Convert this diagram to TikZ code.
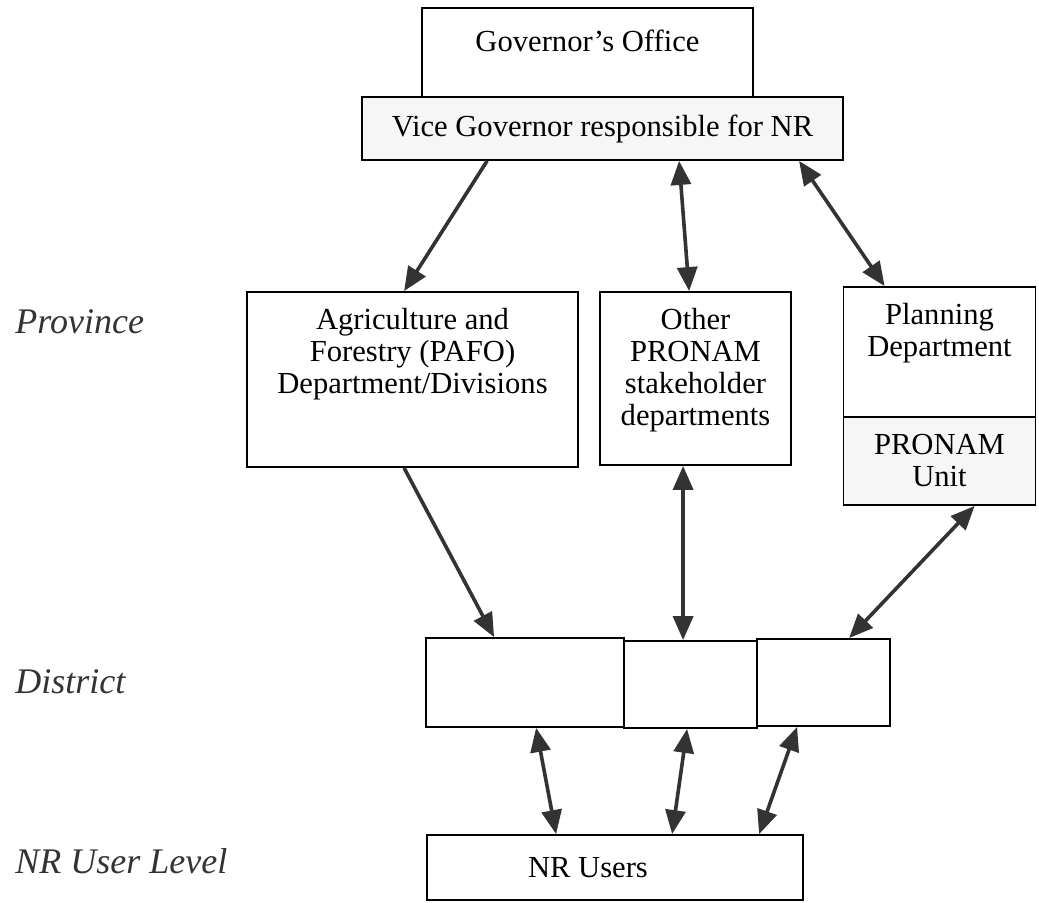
\documentclass[tikz,border=0pt]{standalone}
\usepackage{fontspec}
\setmainfont{Liberation Serif}
\usetikzlibrary{arrows.meta}

\begin{document}
\begin{tikzpicture}[x=0.5pt, y=-0.5pt, font=\fontsize{15.3}{16}\selectfont,
    >={Triangle[length=12pt, width=10pt]},
    box/.style={draw, line width=0.9pt, align=center, inner sep=0pt, fill=#1},
    box/.default=white,
    lvl/.style={anchor=west, inner sep=0pt, font=\fontsize{18}{20}\selectfont\itshape, text=black!80},
    link/.style={line width=1.8pt, draw=black!80}]

  \useasboundingbox (0,0) rectangle (1039,902);

  % ---------------- levels ----------------
  \node[lvl] (lprov) at (15,322) {Province};
  \node[lvl] (ldist) at (15,682) {District};
  \node[lvl] (luser) at (15,861) {NR User Level};

  % ---------------- governor ----------------
  \node[box, minimum width=165.5pt, minimum height=44.5pt] (gov) at (587.5,52.5) {};
  \node[anchor=north] (govt) at ([yshift=-8pt]gov.north) {Governor's Office};
  \node[box=gray!7, minimum width=240.5pt, minimum height=31.5pt] (vgov) at (602.5,128.5) {Vice Governor responsible for NR};

  % ---------------- province ----------------
  \node[box, minimum width=165.5pt, minimum height=87.5pt,
    label={[anchor=north, align=center, yshift=-5pt]north:Agriculture and\\Forestry (PAFO)\\Department/Divisions}] (pafo) at (412.5,379.5) {};
  \node[box, minimum width=95.5pt, minimum height=86.5pt,
    label={[anchor=north, align=center, yshift=-5pt]north:Other\\PRONAM\\stakeholder\\departments}] (other) at (695.5,378.5) {};
  \node[box, minimum width=96pt, minimum height=65pt,
    label={[anchor=north, align=center, yshift=-5pt]north:Planning\\Department}] (plan) at (939.5,352) {};
  \node[box=gray!7, minimum width=96pt, minimum height=44pt] (unit) at (939.5,461) {PRONAM\\Unit};

  % ---------------- district ----------------
  \node[box, minimum width=99pt, minimum height=44.5pt] (dpafo) at (525,682.5) {};
  \node[box, minimum width=66.5pt, minimum height=43.5pt] (dother) at (690.5,684.5) {};
  \node[box, minimum width=66.5pt, minimum height=43.5pt] (dplan) at (823.5,682.5) {};

  % ---------------- users ----------------
  \node[box, minimum width=188pt, minimum height=32.5pt] (users) at (615,867.5) {\hspace*{-27pt}NR Users};

  % ---------------- links ----------------
  \draw[link, ->] ([xshift=63pt]vgov.south west) -- ([xshift=79pt]pafo.north west);
  \draw[link, <->] ([xshift=159pt]vgov.south west) -- ([xshift=45pt]other.north west);
  \draw[link, <->] ([xshift=219pt]vgov.south west) -- ([xshift=21pt]plan.north west);

  \draw[link, ->] ([xshift=79pt]pafo.south west) -- ([xshift=34.5pt]dpafo.north west);
  \draw[link, <->] ([xshift=42pt]other.south west) -- ([xshift=30pt]dother.north west);
  \draw[link, <->] ([xshift=66pt]unit.south west) -- ([xshift=46.5pt]dplan.north west);

  \draw[link, <->] ([xshift=55.5pt]dpafo.south west) -- ([xshift=65pt]users.north west);
  \draw[link, <->] ([xshift=32pt]dother.south west) -- ([xshift=123pt]users.north west);
  \draw[link, <->] ([xshift=20.5pt]dplan.south west) -- ([xshift=166.5pt]users.north west);
\end{tikzpicture}
\end{document}
